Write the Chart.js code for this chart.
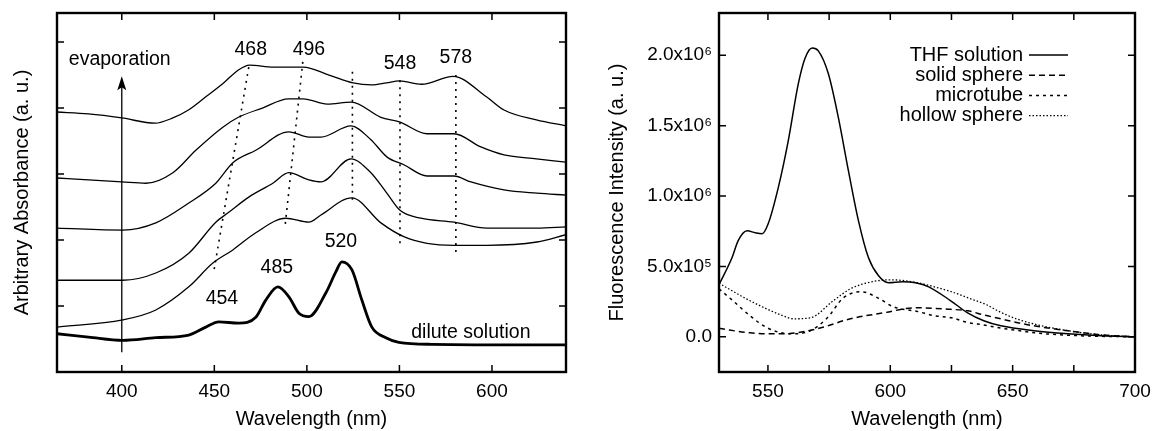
<!DOCTYPE html>
<html><head><meta charset="utf-8">
<script src="https://cdn.jsdelivr.net/npm/chart.js@4/dist/chart.umd.min.js"></script>
<style>
html,body{margin:0;padding:0;background:#fff;}
#wrap{position:relative;width:1152px;height:431px;background:#fff;}
.box{position:absolute;top:0;width:576px;height:431px;}
canvas{display:block;}
</style></head><body>
<div id="wrap">
<div class="box" style="left:0"><canvas id="c1" width="576" height="431"></canvas></div>
<div class="box" style="left:576px"><canvas id="c2" width="576" height="431"></canvas></div>
</div>
<script>
// ---------- Left panel: absorbance (arbitrary offset units) ----------
const leftXTicks = [400, 450, 500, 550, 600];
const leftYTicks = [1, 2, 3, 4, 5];
const absCurve1 = [[365,3.94],[382,3.91],[400,3.85],[418,3.77],[427.6,3.85],[436,3.97],[445.4,4.17],[455,4.38],[463.2,4.58],[469,4.65],[482,4.62],[498,4.62],[512,4.50],[525,4.38],[535,4.35],[543,4.38],[550,4.41],[562,4.36],[579,4.48],[597,4.17],[606.5,3.97],[624,3.82],[640,3.73]];
const absCurve2 = [[365,2.94],[382,2.91],[400,2.88],[413,2.86],[427.6,3.02],[440,3.36],[454.6,3.71],[463,3.86],[476,4.0],[490,4.14],[498,4.14],[511,4.06],[524,4.09],[540,3.86],[550,3.79],[565,3.61],[579.5,3.61],[594,3.41],[606.5,3.29],[624,3.23],[640,3.18]];
const absCurve3 = [[365,2.18],[400.5,2.15],[418.4,2.26],[436.2,2.56],[450.8,2.86],[460,3.17],[472.4,3.36],[490.3,3.64],[501.1,3.56],[507.6,3.56],[523.8,3.73],[534.6,3.52],[543.2,3.26],[552.4,3.14],[564.9,2.97],[579.5,2.97],[588.6,2.88],[606.5,2.76],[624.3,2.71],[640,2.68]];
const absCurve4 = [[365,1.39],[400.5,1.39],[418.4,1.5],[436.2,1.80],[450.8,2.27],[457.8,2.42],[468.6,2.65],[481.6,2.86],[490.3,3.02],[501.1,2.91],[507.6,2.88],[523.8,3.23],[534.6,3.02],[543.2,2.71],[550.3,2.45],[561.6,2.33],[579.5,2.27],[597.3,2.18],[624.3,2.18],[640,2.20]];
const absCurve5 = [[365,0.68],[400.5,0.79],[418.4,0.94],[436.2,1.29],[449.2,1.65],[460,1.85],[472.4,2.11],[488.6,2.33],[501.1,2.27],[507.6,2.38],[524.3,2.64],[540,2.26],[552.4,2.05],[564.9,1.95],[579.5,1.92],[597.3,1.92],[624.3,1.97],[640,2.08]];
const absDilute = [[365,0.58],[382,0.53],[400.5,0.48],[418.4,0.52],[436.2,0.56],[445.4,0.68],[452.4,0.76],[463.2,0.74],[472.4,0.83],[477.8,1.09],[484.3,1.29],[490.3,1.14],[495.7,0.89],[501.1,0.84],[510.3,1.20],[515.7,1.52],[518.9,1.67],[524.3,1.55],[529.7,1.09],[535.1,0.68],[542.7,0.52],[549.7,0.45],[567.6,0.42],[640,0.41]];
// peak-tracking guide lines (wavelength, value) pairs
const guide468 = [[468.6,4.62],[449.7,1.52]];
const guide496 = [[497.8,4.70],[488.1,2.18]];
const guide520 = [[524.6,4.55],[524.6,2.60]];
const guide548 = [[550.3,4.42],[550.3,1.89]];
const guide578 = [[580.5,4.50],[580.5,1.80]];
// annotation labels: text, wavelength, value
const peakLabels = [['468',469.7,4.88],['496',501.1,4.88],['548',550.3,4.68],['578',580.5,4.76],['454',454.1,1.11],['485',483.8,1.58],['520',518.4,1.97],['dilute solution',588.6,0.59],['evaporation',398.9,4.73]];
const evapArrow = [[400,0.30],[400,4.48]];

// ---------- Right panel: fluorescence ----------
const rightXTicks = [550, 575, 600, 625, 650, 675, 700];
const rightXLabels = [550, 600, 650, 700];
const rightYTickValues = [0, 5e5, 1e6, 1.5e6, 2e6];
const rightYTickLabels = ['0.0', '5.0x10\u2075', '1.0x10\u2076', '1.5x10\u2076', '2.0x10\u2076'];
const seriesNames = ['THF solution', 'solid sphere', 'microtube', 'hollow sphere'];
const thfSolution = [[530,3.7e5],[535.3,5.61e5],[537.8,6.82e5],[541.5,7.53e5],[544.8,7.39e5],[547.6,7.32e5],[550.1,8.03e5],[554.2,1.058e6],[558.3,1.392e6],[562.4,1.797e6],[565.2,1.981e6],[568.1,2.052e6],[570.6,2.031e6],[574.7,1.868e6],[578.8,1.555e6],[582.9,1.179e6],[587,8.24e5],[591.1,5.61e5],[595.2,4.33e5],[599.3,3.84e5],[605,3.91e5],[610.3,3.84e5],[615.7,3.55e5],[624.7,2.56e5],[631.6,1.70e5],[638.2,1.14e5],[645.2,7.8e4],[658.7,4.3e4],[672.6,2.1e4],[686.1,7e3],[700,0]];
const solidSphere = [[530,6.0e4],[542.7,2.8e4],[556.2,2.1e4],[570.2,5.7e4],[583.7,1.28e5],[597.2,1.70e5],[610.3,2.06e5],[624.7,1.95e5],[631.6,1.85e5],[638.2,1.55e5],[645.2,1.28e5],[652.1,1.0e5],[658.7,7.8e4],[672.6,4.3e4],[686.1,1.4e4],[700,0]];
const microtube = [[530,3.4e5],[535.7,2.56e5],[542.7,1.49e5],[549.7,6.4e4],[559.1,2.1e4],[567.3,4.3e4],[574.3,1.35e5],[580.8,2.77e5],[588.2,3.2e5],[594.8,2.77e5],[601.3,2.13e5],[611.1,1.8e5],[618,1.5e5],[625,1.35e5],[632,1.0e5],[638,8.5e4],[645,6.2e4],[652,4.5e4],[659,2.8e4],[666,1.8e4],[680,6e3],[700,0]];
const hollowSphere = [[530,3.8e5],[542.7,2.56e5],[556.2,1.49e5],[560.3,1.28e5],[567.3,1.35e5],[576.7,2.56e5],[583.7,3.41e5],[590.7,3.84e5],[600.1,4.05e5],[611.1,3.84e5],[618,3.55e5],[625,3.2e5],[632,2.75e5],[639,2.3e5],[645,1.75e5],[652,1.25e5],[659,9.0e4],[672.6,4.3e4],[686.1,1.4e4],[700,0]];

// ---------- helpers ----------
const FONT = '"Liberation Sans", Arial, Helvetica, sans-serif';
Chart.defaults.font.family = FONT;
Chart.defaults.color = '#000';
const pts = arr => arr.map(p => ({x: p[0], y: p[1]}));
const setTicks = vals => (s => { s.ticks = vals.map(v => ({value: v})); });
function curve(arr, w, dash) {
  return {data: pts(arr), borderColor: '#000', borderWidth: w, borderDash: dash || [],
    pointRadius: 0, fill: false, cubicInterpolationMode: 'monotone', label: ''};
}
function guide(arr) {
  return {data: pts(arr), borderColor: '#000', borderWidth: 1.6, borderDash: [2, 5],
    pointRadius: 0, fill: false, tension: 0};
}

const framePlugin = {
  id: 'frame',
  afterDatasetsDraw(chart) {
    const {ctx, chartArea: a, scales: {x, y}} = chart;
    const L = 7;
    ctx.save();
    ctx.strokeStyle = '#000';
    ctx.lineWidth = 1.5;
    ctx.beginPath();
    x.ticks.forEach(t => {
      const px = x.getPixelForValue(t.value);
      if (px < a.left + 2 || px > a.right - 2) return;
      ctx.moveTo(px, a.bottom); ctx.lineTo(px, a.bottom - L);
      ctx.moveTo(px, a.top); ctx.lineTo(px, a.top + L);
    });
    y.ticks.forEach(t => {
      const py = y.getPixelForValue(t.value);
      if (py < a.top + 2 || py > a.bottom - 2) return;
      ctx.moveTo(a.left, py); ctx.lineTo(a.left + L, py);
      ctx.moveTo(a.right, py); ctx.lineTo(a.right - L, py);
    });
    ctx.stroke();
    ctx.lineWidth = 2.4;
    ctx.strokeRect(a.left, a.top, a.right - a.left, a.bottom - a.top);
    ctx.restore();
  }
};

const leftAnnot = {
  id: 'leftAnnot',
  afterDatasetsDraw(chart) {
    const {ctx, scales: {x, y}} = chart;
    ctx.save();
    ctx.fillStyle = '#000';
    ctx.strokeStyle = '#000';
    ctx.font = '19.5px ' + FONT;
    ctx.textAlign = 'center';
    ctx.textBaseline = 'middle';
    peakLabels.forEach(l => ctx.fillText(l[0], x.getPixelForValue(l[1]), y.getPixelForValue(l[2])));
    // evaporation arrow
    const ax = x.getPixelForValue(evapArrow[0][0]);
    const y0 = y.getPixelForValue(evapArrow[0][1]);
    const y1 = y.getPixelForValue(evapArrow[1][1]);
    ctx.lineWidth = 1.3;
    ctx.beginPath(); ctx.moveTo(ax, y0); ctx.lineTo(ax, y1 + 8); ctx.stroke();
    ctx.beginPath();
    ctx.moveTo(ax, y1); ctx.lineTo(ax - 4.5, y1 + 14); ctx.lineTo(ax, y1 + 11); ctx.lineTo(ax + 4.5, y1 + 14);
    ctx.closePath(); ctx.fill();
    ctx.restore();
  }
};

const rightLegend = {
  id: 'rightLegend',
  afterDatasetsDraw(chart) {
    const {ctx, chartArea: a} = chart;
    ctx.save();
    ctx.font = '20px ' + FONT;
    ctx.fillStyle = '#000';
    ctx.strokeStyle = '#000';
    ctx.textAlign = 'right';
    ctx.textBaseline = 'middle';
    chart.data.datasets.forEach((ds, i) => {
      const ry = a.top + 42 + 20.2 * i;
      ctx.fillText(ds.label, a.right - 112, ry);
      ctx.lineWidth = ds.borderWidth;
      ctx.setLineDash(ds.borderDash || []);
      ctx.beginPath(); ctx.moveTo(a.right - 106, ry); ctx.lineTo(a.right - 67, ry); ctx.stroke();
    });
    ctx.restore();
  }
};

const baseOpts = {
  responsive: false, animation: false, devicePixelRatio: 1,
  plugins: {legend: {display: false}, tooltip: {enabled: false}},
};

new Chart(document.getElementById('c1'), {
  type: 'line',
  data: {datasets: [
    curve(absCurve1, 1.3), curve(absCurve2, 1.3), curve(absCurve3, 1.3),
    curve(absCurve4, 1.3), curve(absCurve5, 1.3), curve(absDilute, 2.8),
    guide(guide468), guide(guide496), guide(guide520), guide(guide548), guide(guide578)
  ]},
  options: Object.assign({}, baseOpts, {
    layout: {padding: {left: 0, top: 13, right: 10, bottom: 0}},
    scales: {
      x: {type: 'linear', min: 365, max: 640,
        afterBuildTicks: setTicks(leftXTicks),
        afterFit: s => { s.height = 59; },
        grid: {display: false, drawTicks: true, tickLength: 8}, border: {display: false},
        ticks: {padding: 0, autoSkip: false, maxRotation: 0,
          font: {size: 19}, callback: v => leftXTicks.includes(v) ? String(v) : ''},
        title: {display: true, text: 'Wavelength (nm)', font: {size: 20}, padding: {top: 0, bottom: 0}}},
      y: {type: 'linear', min: 0, max: 5.44,
        afterBuildTicks: setTicks(leftYTicks),
        afterFit: s => { s.width = 57; },
        grid: {display: false, drawTicks: false}, border: {display: false},
        ticks: {display: false},
        title: {display: true, text: 'Arbitrary Absorbance (a. u.)', font: {size: 20}, padding: {top: 10, bottom: 0}}}
    }
  }),
  plugins: [framePlugin, leftAnnot]
});

const rds = [
  Object.assign(curve(thfSolution, 1.5), {label: seriesNames[0]}),
  Object.assign(curve(solidSphere, 1.5, [6, 4]), {label: seriesNames[1]}),
  Object.assign(curve(microtube, 1.5, [3, 4]), {label: seriesNames[2]}),
  Object.assign(curve(hollowSphere, 1.3, [1.5, 2]), {label: seriesNames[3]})
];

new Chart(document.getElementById('c2'), {
  type: 'line',
  data: {datasets: rds},
  options: Object.assign({}, baseOpts, {
    layout: {padding: {left: 0, top: 13, right: 17, bottom: 0}},
    scales: {
      x: {type: 'linear', min: 530, max: 700,
        afterBuildTicks: setTicks(rightXTicks),
        afterFit: s => { s.height = 59; },
        grid: {display: false, drawTicks: true, tickLength: 8}, border: {display: false},
        ticks: {padding: 0, autoSkip: false, maxRotation: 0,
          font: {size: 19}, callback: v => rightXLabels.includes(v) ? String(v) : ''},
        title: {display: true, text: 'Wavelength (nm)', font: {size: 20}, padding: {top: 0, bottom: 0}}},
      y: {type: 'linear', min: -2.5e5, max: 2.3e6,
        afterBuildTicks: setTicks(rightYTickValues),
        afterFit: s => { s.width = 143; },
        grid: {display: false, drawTicks: true, tickLength: 7}, border: {display: false},
        ticks: {padding: 0, autoSkip: false, font: {size: 19},
          callback: v => { const i = rightYTickValues.indexOf(v); return i >= 0 ? rightYTickLabels[i] : ''; }},
        title: {display: true, text: 'Fluorescence Intensity (a. u.)', font: {size: 20}, padding: {top: 29, bottom: 0}}}
    }
  }),
  plugins: [framePlugin, rightLegend]
});
</script>
</body></html>
